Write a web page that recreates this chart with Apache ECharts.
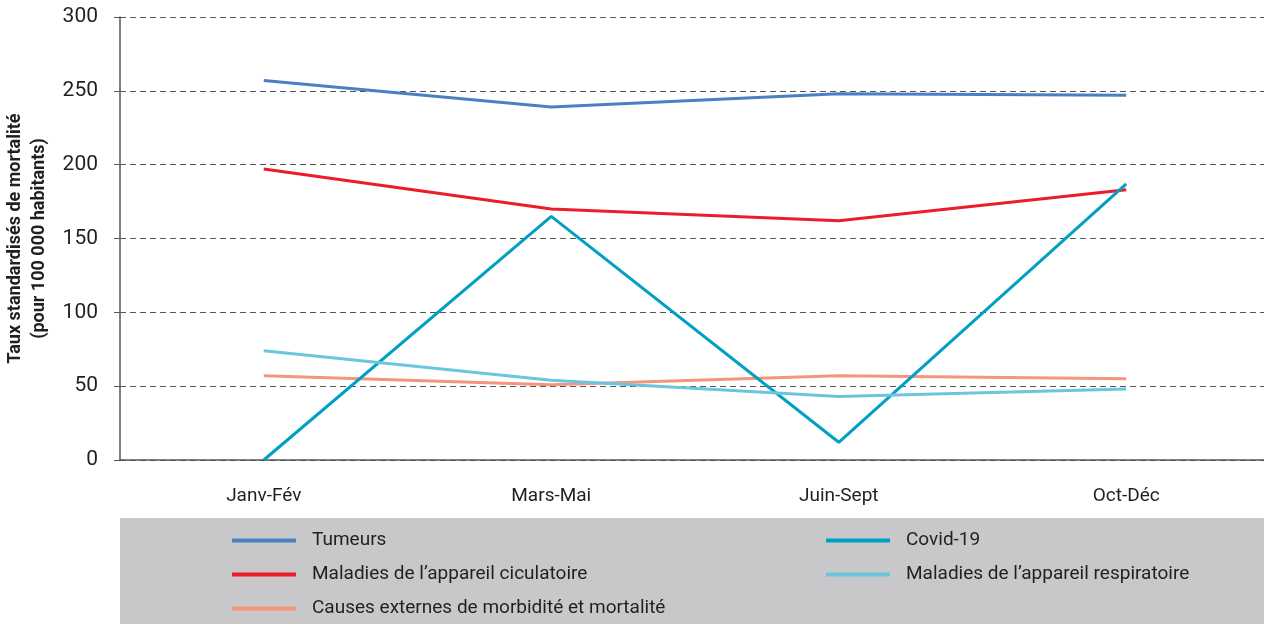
<!DOCTYPE html>
<html>
<head>
<meta charset="utf-8">
<script src="https://cdn.jsdelivr.net/npm/echarts@6/dist/echarts.min.js"></script>
<style>
  html, body { margin: 0; padding: 0; background: #fff; }
  #chart { width: 1264px; height: 624px; }
</style>
</head>
<body>
<div id="chart"></div>
<script>
const periods = ['Janv-Fév', 'Mars-Mai', 'Juin-Sept', 'Oct-Déc']
const tumeurs = [257, 239, 248, 247]
const circulatoire = [197, 170, 162, 183]
const covid = [0, 165, 12, 187]
const respiratoire = [74, 54, 43, 48]
const externes = [57, 51, 57, 55]

const font = '"Liberation Sans Narrow", "Roboto", sans-serif'

const seriesDefs = [
  { name: 'Tumeurs', data: tumeurs, color: '#4a7fc1' },
  { name: 'Maladies de l\u2019appareil ciculatoire', data: circulatoire, color: '#ec1c2a' },
  { name: 'Causes externes de morbidité et mortalité', data: externes, color: '#f5967c' },
  { name: 'Covid-19', data: covid, color: '#00a0c3' },
  { name: 'Maladies de l\u2019appareil respiratoire', data: respiratoire, color: '#6ac6df' }
]

const legendBase = {
  orient: 'vertical',
  top: 531,
  padding: 0,
  itemWidth: 64,
  itemHeight: 4,
  itemGap: 15,
  icon: 'rect',
  textStyle: { fontFamily: font, fontSize: 19, color: '#231f20', padding: [0, 0, 0, 11] }
}

const chart = echarts.init(document.getElementById('chart'))
chart.setOption({
  animation: false,
  backgroundColor: '#fff',
  graphic: [{
    type: 'rect', left: 120, top: 518, z: -10,
    shape: { width: 1144, height: 106 },
    style: { fill: '#c8c8ca' }
  }],
  grid: { left: 120, right: -6, top: 17, bottom: 164, outerBoundsMode: 'none' },
  legend: [
    Object.assign({ left: 232, data: seriesDefs.slice(0, 3).map(s => s.name) }, legendBase),
    Object.assign({ left: 826, data: seriesDefs.slice(3).map(s => s.name) }, legendBase)
  ],
  xAxis: {
    type: 'category',
    data: periods,
    axisLine: { lineStyle: { color: '#555', width: 1.5 } },
    axisTick: { alignWithLabel: true, length: 6, lineStyle: { color: '#555' } },
    axisLabel: { fontFamily: font, fontSize: 19, color: '#231f20', margin: 27 }
  },
  yAxis: {
    type: 'value',
    min: 0, max: 300, interval: 50,
    name: 'Taux standardisés de mortalité\n(pour 100 000 habitants)',
    nameLocation: 'middle',
    nameRotate: 90,
    nameGap: 65,
    nameTextStyle: { fontFamily: font, fontSize: 18, fontWeight: 'bold', color: '#231f20', lineHeight: 24 },
    axisLine: { show: true, lineStyle: { color: '#555', width: 1.5 } },
    axisTick: { show: true, length: 7, lineStyle: { color: '#555', type: [6, 4] } },
    axisLabel: { fontFamily: font, fontSize: 21, color: '#231f20', margin: 22 },
    splitLine: { lineStyle: { color: '#555', type: [6, 4], width: 1 } }
  },
  series: seriesDefs.map(s => ({
    name: s.name,
    type: 'line',
    data: s.data,
    color: s.color,
    symbol: 'none',
    lineStyle: { width: 3, color: s.color }
  }))
})
</script>
</body>
</html>
